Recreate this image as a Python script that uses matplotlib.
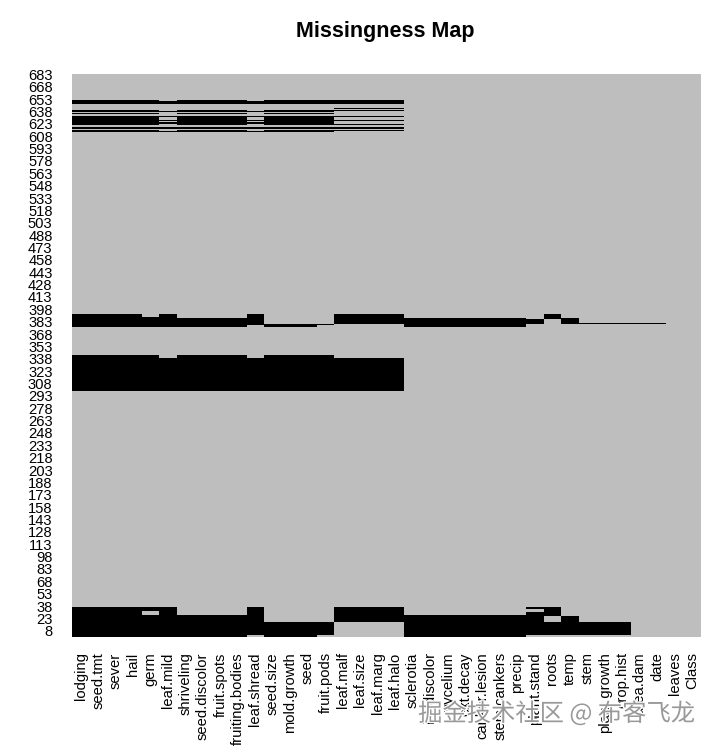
import numpy as np
import matplotlib.pyplot as plt
import matplotlib.patheffects as pe

plt.rcParams['font.family'] = ['Liberation Sans', 'DejaVu Sans']

n_rows = 683

variables = ['lodging', 'seed.tmt', 'sever', 'hail', 'germ', 'leaf.mild',
             'shriveling', 'seed.discolor', 'fruit.spots', 'fruiting.bodies',
             'leaf.shread', 'seed.size', 'mold.growth', 'seed', 'fruit.pods',
             'leaf.malf', 'leaf.size', 'leaf.marg', 'leaf.halo', 'sclerotia',
             'int.discolor', 'mycelium', 'ext.decay', 'canker.lesion',
             'stem.cankers', 'precip', 'plant.stand', 'roots', 'temp', 'stem',
             'plant.growth', 'crop.hist', 'area.dam', 'date', 'leaves', 'Class']

# missing row ranges (first, last), rows counted from the bottom
top_a = [(647, 651), (641, 641), (638, 639), (636, 636), (622, 632),
         (619, 619), (617, 617), (614, 615)]
top_b = [(648, 650), (641, 641), (638, 638), (632, 632), (629, 629),
         (627, 627), (625, 625), (623, 623), (619, 619), (617, 617), (614, 614)]
top_c = [(647, 651), (642, 642), (639, 639), (632, 632), (629, 629),
         (627, 627), (624, 624), (622, 622), (619, 619), (617, 617), (615, 615)]

full_a = top_a + [(377, 392), (299, 342), (1, 36)]
germ_r = top_a + [(377, 388), (390, 390), (299, 342), (33, 36), (1, 27)]
mild_r = top_b + [(377, 392), (299, 339), (1, 36)]
shriv_r = top_a + [(377, 387), (299, 342), (1, 27)]
shread_r = top_b + [(380, 392), (299, 339), (4, 36)]
seed_r = top_a + [(377, 380), (299, 342), (1, 18)]
pods_r = top_a + [(380, 380), (299, 342), (4, 18)]
leaf_r = top_c + [(381, 392), (299, 339), (19, 36)]
stemgrp_r = [(377, 387), (1, 27)]
stand_r = [(390, 390), (381, 386), (35, 36), (4, 30)]
roots_r = [(387, 392), (27, 36), (4, 18)]
temp_r = [(381, 387), (4, 26)]
hist_r = [(381, 381), (4, 18)]
date_r = [(381, 381)]

missing = [full_a, full_a, full_a, full_a, germ_r, mild_r,
           shriv_r, shriv_r, shriv_r, shriv_r,
           shread_r, seed_r, seed_r, seed_r, pods_r,
           leaf_r, leaf_r, leaf_r, leaf_r,
           stemgrp_r, stemgrp_r, stemgrp_r, stemgrp_r, stemgrp_r, stemgrp_r, stemgrp_r,
           stand_r, roots_r, temp_r, hist_r, hist_r, hist_r, date_r, date_r, [], []]

ytick_rows = list(range(8, n_rows + 1, 15))

fig = plt.figure(figsize=(7.17, 7.48), dpi=100)
ax = fig.add_axes([72 / 717, 111 / 748, 629 / 717, 563 / 748])
ax.set_facecolor('#bebebe')

for i, ranges in enumerate(missing):
    for a, b in ranges:
        ax.bar(i + 0.5, b - a + 1, bottom=a - 0.5, width=1.0,
               color='black', linewidth=0)

ax.set_xlim(0, len(variables))
ax.set_ylim(0.5, n_rows + 0.5)
ax.set_xticks(np.arange(len(variables)) + 0.5)
ax.set_xticklabels(variables, rotation=90, fontsize=10.6)
ax.set_yticks(ytick_rows)
ax.set_yticklabels([str(r) for r in ytick_rows], fontsize=10.6)
ax.tick_params(axis='x', length=0, pad=11)
ax.tick_params(axis='y', length=0, pad=14)
for s in ax.spines.values():
    s.set_visible(False)

fig.text(0.537, 1 - 31 / 748, 'Missingness Map', ha='center', va='center',
         fontsize=15.5, fontweight='bold')

fig.text(0.776, 1 - 714 / 748, '掘金技术社区 @ 布客飞龙', ha='center', va='center',
         fontsize=17.5, color='#999999', family=['Noto Sans CJK SC', 'DejaVu Sans'],
         path_effects=[pe.withStroke(linewidth=2, foreground='white')])

fig.savefig('out.png', dpi=100)
